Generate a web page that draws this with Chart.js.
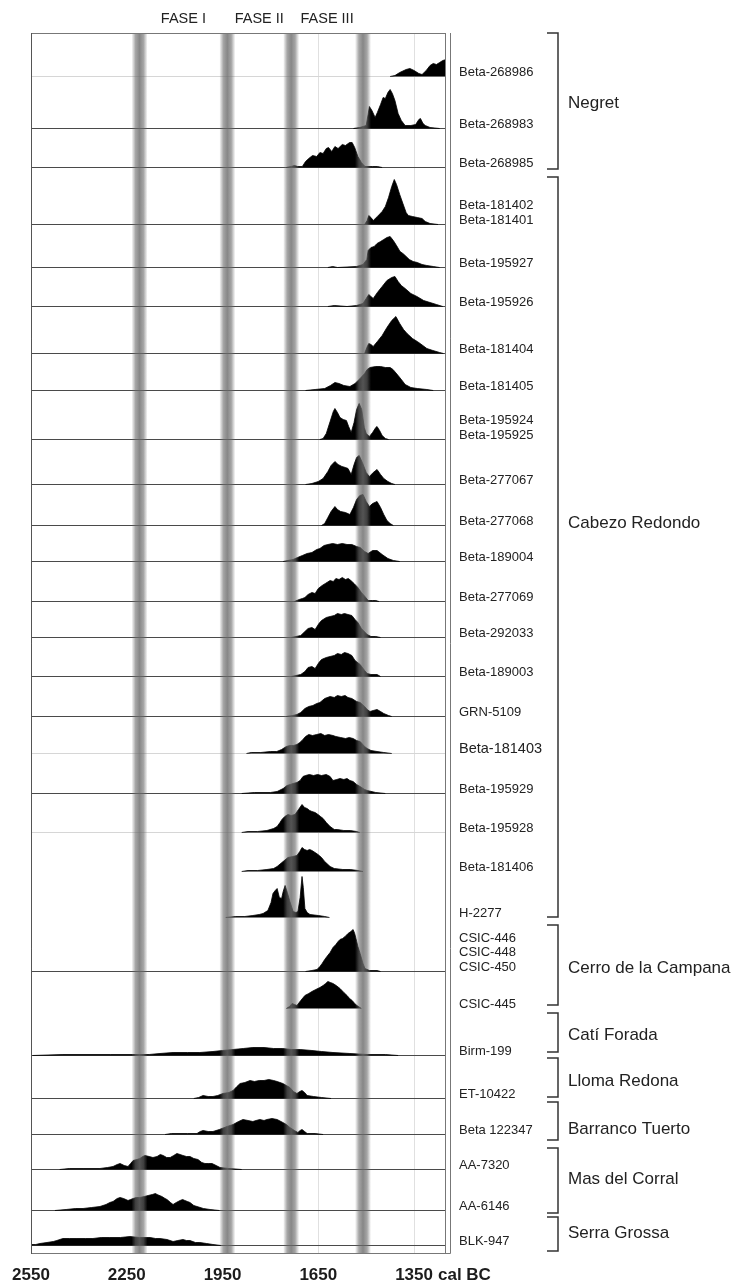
<!DOCTYPE html>
<html>
<head>
<meta charset="utf-8">
<script src="https://cdn.jsdelivr.net/npm/chart.js@4.4.1/dist/chart.umd.min.js"></script>
<style>
  html, body { margin: 0; padding: 0; background: #fff; }
  #wrap { width: 742px; height: 1284px; position: relative; }
</style>
</head>
<body>
<div id="wrap"><canvas id="myChart"></canvas></div>
<script>
// calibrated probability, [year cal BC, relative probability]
const pBeta268986 = [[1425,0],[1410,1],[1395,4],[1375,7],[1363,8],[1350,6],[1335,3],[1325,2],[1312,6],[1300,11],[1290,13],[1280,12],[1270,14],[1260,16],[1250,17]];
const pBeta268983 = [[1540,0],[1520,1],[1500,3],[1494,14],[1490,22],[1482,18],[1472,11],[1465,16],[1455,24],[1447,31],[1440,30],[1432,36],[1425,39],[1418,35],[1410,28],[1400,15],[1390,8],[1378,3],[1360,3],[1345,4],[1335,9],[1330,10],[1322,5],[1315,3],[1300,1],[1270,0]];
const pBeta268985 = [[1750,0],[1735,1],[1725,2],[1715,1],[1700,1],[1690,6],[1680,9],[1668,12],[1655,11],[1645,15],[1635,14],[1625,19],[1618,20],[1608,16],[1598,21],[1588,19],[1575,23],[1565,22],[1552,25],[1544,25],[1536,20],[1526,11],[1515,5],[1504,1],[1480,1],[1465,1],[1450,0]];
const pBeta181402 = [[1505,0],[1497,4],[1492,9],[1485,7],[1478,4],[1465,8],[1450,13],[1440,18],[1430,27],[1420,38],[1412,45],[1405,40],[1395,30],[1385,21],[1375,12],[1368,9],[1355,8],[1340,7],[1325,6],[1315,3],[1300,1],[1275,0]];
const pBeta195927 = [[1620,0],[1605,1],[1590,0],[1530,1],[1510,3],[1498,8],[1494,17],[1485,20],[1475,21],[1466,24],[1455,26],[1445,28],[1435,30],[1425,31],[1415,27],[1405,22],[1394,16],[1385,14],[1378,12],[1365,8],[1353,6],[1340,5],[1325,3],[1310,2],[1290,1],[1270,0]];
const pBeta195926 = [[1620,0],[1600,1],[1560,0],[1530,1],[1510,3],[1500,8],[1492,12],[1485,10],[1478,8],[1465,14],[1450,20],[1435,26],[1420,29],[1410,30],[1400,25],[1390,21],[1378,18],[1360,13],[1341,10],[1320,6],[1300,4],[1280,2],[1260,0]];
const pBeta181404 = [[1505,0],[1498,6],[1492,10],[1485,9],[1478,7],[1465,12],[1450,18],[1435,26],[1420,33],[1407,37],[1395,30],[1383,24],[1372,20],[1355,15],[1340,12],[1331,10],[1310,5],[1291,3],[1270,1],[1258,0]];
const pBeta181405 = [[1690,0],[1660,1],[1630,2],[1612,5],[1598,8],[1585,7],[1570,5],[1551,4],[1535,7],[1519,12],[1505,17],[1497,21],[1488,23],[1470,24],[1455,24],[1440,23],[1425,23],[1416,21],[1400,15],[1385,9],[1378,6],[1360,3],[1340,2],[1310,1],[1290,0]];
const pBeta195924 = [[1645,0],[1635,1],[1625,6],[1613,18],[1603,28],[1598,31],[1590,27],[1582,22],[1572,20],[1562,19],[1555,13],[1547,7],[1538,17],[1530,30],[1522,36],[1514,30],[1506,12],[1500,6],[1490,3],[1480,7],[1470,12],[1466,13],[1458,9],[1450,4],[1440,1],[1430,0]];
const pBeta277067 = [[1690,0],[1670,1],[1650,3],[1635,6],[1620,13],[1610,19],[1598,23],[1588,20],[1576,18],[1565,17],[1557,16],[1547,10],[1538,20],[1530,27],[1522,29],[1512,22],[1500,12],[1490,8],[1478,12],[1466,15],[1455,10],[1445,6],[1432,3],[1420,1],[1410,0]];
const pBeta277068 = [[1640,0],[1630,2],[1620,8],[1610,14],[1598,19],[1590,16],[1580,14],[1565,13],[1551,11],[1540,18],[1530,26],[1520,30],[1510,31],[1500,24],[1490,19],[1480,22],[1466,24],[1455,18],[1445,11],[1435,5],[1425,2],[1415,0]];
const pBeta189004 = [[1760,0],[1745,1],[1729,2],[1715,4],[1700,6],[1685,8],[1670,9],[1655,12],[1645,13],[1632,16],[1620,17],[1605,18],[1590,17],[1575,18],[1560,17],[1545,17],[1530,15],[1519,14],[1505,10],[1494,8],[1480,11],[1466,11],[1450,7],[1432,3],[1415,1],[1395,0]];
const pBeta277069 = [[1725,0],[1710,2],[1700,3],[1692,4],[1682,7],[1670,9],[1660,8],[1650,13],[1638,16],[1628,18],[1613,21],[1603,20],[1595,23],[1585,22],[1575,24],[1565,22],[1556,23],[1548,21],[1538,18],[1526,14],[1515,9],[1504,5],[1494,1],[1480,1],[1470,1],[1460,0]];
const pBeta292033 = [[1735,0],[1720,1],[1705,2],[1692,6],[1682,9],[1670,10],[1660,8],[1648,14],[1640,17],[1625,20],[1613,21],[1600,22],[1590,24],[1578,23],[1568,24],[1557,23],[1545,22],[1535,18],[1526,15],[1515,9],[1497,3],[1485,1],[1470,1],[1455,0]];
const pBeta189003 = [[1735,0],[1720,1],[1705,2],[1692,5],[1682,9],[1670,10],[1660,8],[1648,14],[1640,17],[1625,19],[1613,20],[1600,21],[1590,23],[1578,22],[1568,24],[1557,23],[1545,21],[1535,16],[1519,12],[1505,6],[1497,3],[1485,2],[1466,2],[1455,0]];
const pGRN5109 = [[1750,0],[1730,1],[1717,2],[1705,4],[1692,8],[1680,10],[1667,11],[1655,13],[1645,14],[1630,18],[1613,20],[1600,19],[1590,21],[1578,20],[1566,21],[1557,19],[1545,18],[1530,15],[1519,14],[1505,10],[1497,7],[1488,5],[1478,6],[1466,7],[1455,5],[1445,3],[1430,1],[1420,0]];
const pBeta181403 = [[1875,0],[1860,1],[1830,1],[1800,2],[1780,2],[1765,4],[1750,7],[1739,8],[1728,8],[1717,9],[1708,11],[1701,13],[1690,17],[1680,19],[1668,18],[1655,19],[1642,20],[1630,18],[1618,19],[1604,18],[1595,17],[1580,16],[1565,15],[1553,16],[1541,15],[1530,13],[1519,12],[1505,7],[1497,5],[1485,3],[1466,2],[1445,1],[1420,0]];
const pBeta195929 = [[1890,0],[1850,1],[1800,1],[1779,2],[1760,5],[1748,8],[1738,9],[1729,10],[1717,11],[1707,13],[1698,17],[1690,18],[1678,19],[1665,18],[1652,19],[1640,18],[1625,19],[1613,17],[1604,13],[1592,14],[1582,15],[1570,14],[1560,15],[1551,13],[1541,12],[1530,9],[1519,7],[1505,4],[1497,3],[1470,1],[1440,0]];
const pBeta195928 = [[1890,0],[1870,1],[1840,1],[1811,2],[1790,4],[1779,6],[1770,10],[1764,13],[1755,16],[1745,18],[1735,17],[1723,18],[1712,23],[1701,28],[1693,25],[1685,24],[1677,22],[1670,21],[1660,20],[1651,18],[1643,16],[1635,14],[1625,10],[1613,6],[1600,3],[1591,3],[1570,2],[1550,2],[1530,1],[1520,0]];
const pBeta181406 = [[1890,0],[1870,1],[1840,1],[1811,2],[1790,3],[1779,5],[1764,9],[1745,14],[1730,15],[1717,16],[1708,20],[1701,24],[1693,22],[1685,21],[1677,22],[1670,21],[1660,19],[1651,17],[1640,14],[1630,10],[1613,5],[1600,3],[1573,2],[1550,2],[1526,1],[1510,0]];
const pH2277 = [[1940,0],[1910,1],[1880,1],[1855,2],[1835,3],[1823,4],[1808,7],[1798,15],[1792,24],[1785,27],[1779,29],[1772,20],[1765,19],[1760,26],[1754,32],[1747,25],[1739,16],[1729,6],[1720,5],[1714,6],[1707,20],[1701,41],[1697,30],[1692,9],[1685,5],[1676,3],[1650,2],[1630,1],[1615,0]];
const pCSIC446 = [[1690,0],[1670,1],[1654,2],[1645,5],[1638,8],[1630,12],[1623,15],[1613,19],[1604,24],[1595,27],[1588,30],[1582,32],[1574,33],[1566,35],[1557,38],[1548,40],[1541,42],[1536,38],[1532,33],[1526,25],[1519,18],[1510,8],[1504,3],[1490,1],[1466,1],[1455,0]];
const pCSIC445 = [[1750,0],[1740,2],[1732,5],[1725,4],[1717,3],[1705,8],[1692,13],[1680,15],[1670,17],[1658,19],[1645,21],[1635,23],[1627,25],[1620,27],[1612,26],[1604,25],[1594,23],[1582,20],[1570,16],[1560,13],[1552,10],[1544,8],[1536,5],[1529,3],[1515,0]];
const pBirm199 = [[2545,0],[2450,1],[2300,1],[2231,1],[2180,1],[2146,2],[2105,3],[2060,3],[2021,3],[1980,4],[1950,5],[1917,6],[1885,7],[1855,8],[1820,8],[1790,7],[1761,7],[1735,6],[1707,6],[1670,5],[1640,4],[1604,3],[1551,2],[1497,1],[1440,1],[1400,0]];
const pET10422 = [[2040,0],[2025,1],[2011,3],[1995,2],[1980,2],[1965,3],[1949,5],[1930,6],[1917,8],[1905,12],[1895,15],[1880,16],[1864,18],[1850,17],[1835,18],[1820,18],[1805,19],[1790,18],[1779,17],[1761,15],[1750,13],[1739,11],[1728,7],[1717,5],[1708,7],[1701,8],[1693,6],[1685,3],[1665,2],[1640,1],[1610,0]];
const pBeta122347 = [[2130,0],[2110,1],[2060,1],[2030,1],[2020,3],[2011,4],[1995,3],[1980,3],[1960,5],[1936,8],[1917,10],[1900,13],[1886,15],[1870,14],[1855,13],[1845,14],[1833,15],[1820,14],[1811,15],[1795,16],[1779,15],[1761,12],[1750,10],[1739,7],[1725,4],[1714,2],[1707,4],[1701,5],[1693,3],[1685,1],[1660,1],[1635,0]];
const pAA7320 = [[2460,0],[2430,1],[2387,1],[2334,1],[2310,2],[2293,3],[2280,5],[2271,6],[2258,4],[2246,3],[2238,6],[2230,9],[2218,10],[2209,11],[2200,13],[2193,14],[2180,13],[2168,12],[2155,13],[2145,15],[2136,14],[2125,12],[2114,12],[2103,14],[2093,16],[2083,15],[2074,14],[2063,13],[2052,13],[2040,11],[2027,10],[2015,7],[2005,6],[1995,6],[1983,6],[1970,4],[1958,2],[1930,1],[1890,0]];
const pAA6146 = [[2475,0],[2440,1],[2410,2],[2387,2],[2360,3],[2334,4],[2315,6],[2303,8],[2293,9],[2280,12],[2271,13],[2260,12],[2246,10],[2238,11],[2230,12],[2220,13],[2209,13],[2195,14],[2183,15],[2170,16],[2160,17],[2155,16],[2140,14],[2130,12],[2124,11],[2113,8],[2105,6],[2095,8],[2083,10],[2075,11],[2068,10],[2060,9],[2052,8],[2040,5],[2030,4],[2010,2],[1989,1],[1960,0]];
const pBLK947 = [[2550,1],[2535,1],[2522,2],[2500,3],[2480,4],[2469,5],[2450,7],[2430,7],[2406,7],[2380,7],[2356,7],[2330,8],[2303,8],[2270,8],[2240,9],[2210,8],[2177,8],[2160,7],[2146,7],[2124,6],[2105,4],[2090,5],[2074,6],[2063,5],[2052,5],[2035,3],[2021,3],[2000,2],[1980,1],[1955,0]];

// one entry per row, top to bottom
const sampleLabels = [
  ['Beta-268986'], ['Beta-268983'], ['Beta-268985'],
  ['Beta-181402', 'Beta-181401'], ['Beta-195927'], ['Beta-195926'], ['Beta-181404'], ['Beta-181405'],
  ['Beta-195924', 'Beta-195925'], ['Beta-277067'], ['Beta-277068'], ['Beta-189004'], ['Beta-277069'],
  ['Beta-292033'], ['Beta-189003'], ['GRN-5109'], ['Beta-181403'], ['Beta-195929'], ['Beta-195928'],
  ['Beta-181406'], ['H-2277'],
  ['CSIC-446', 'CSIC-448', 'CSIC-450'], ['CSIC-445'],
  ['Birm-199'], ['ET-10422'], ['Beta 122347'], ['AA-7320'], ['AA-6146'], ['BLK-947']
];
const sampleProbs = [
  pBeta268986, pBeta268983, pBeta268985,
  pBeta181402, pBeta195927, pBeta195926, pBeta181404, pBeta181405,
  pBeta195924, pBeta277067, pBeta277068, pBeta189004, pBeta277069,
  pBeta292033, pBeta189003, pGRN5109, pBeta181403, pBeta195929, pBeta195928,
  pBeta181406, pH2277,
  pCSIC446, pCSIC445,
  pBirm199, pET10422, pBeta122347, pAA7320, pAA6146, pBLK947
];

const sites = ['Negret', 'Cabezo Redondo', 'Cerro de la Campana', 'Catí Forada', 'Lloma Redona', 'Barranco Tuerto', 'Mas del Corral', 'Serra Grossa'];
const xTicks = [2550, 2250, 1950, 1650, 1350];
const phases = ['FASE I', 'FASE II', 'FASE III'];
const phaseBounds = [2210, 1935, 1735, 1510];

// layout of the panel (pixels)
const PLOT_TOP = 33, PLOT_BOTTOM = 1253;
const rowBaseY = [76.5, 128.5, 167.5, 224.5, 267.5, 306.5, 353.5, 390.5, 439.5, 484.5, 525.5, 561.5, 601.5, 637.5,
  676.5, 716.5, 753.5, 793.5, 832.5, 871.5, 917.5, 971.5, 1008.5, 1055.5, 1098.5, 1134.5, 1169.5, 1210.5, 1245.5];
const rowLine = ['faint', 'full', 'full', 'full', 'full', 'full', 'full', 'full', 'full', 'full', 'full', 'full', 'full', 'full',
  'full', 'full', 'faint', 'full', 'faint', 'none', 'none', 'full', 'none', 'full', 'full', 'full', 'full', 'full', 'full'];
const bracketSpans = [[33, 169], [177, 917], [925, 1005], [1013, 1052], [1058, 1097], [1102, 1140], [1148, 1213], [1217, 1251]];
const siteLabelY = [103, 523, 968, 1035, 1081, 1129, 1179, 1233];

const FONT = '"Liberation Sans", Arial, Helvetica, sans-serif';
Chart.defaults.font.family = FONT;

const datasets = [];
sampleProbs.forEach((prob, i) => {
  const base = rowBaseY[i] - PLOT_TOP;
  if (rowLine[i] !== 'none') {
    datasets.push({
      data: [{ x: 2550, y: base }, { x: 1250, y: base }],
      borderColor: rowLine[i] === 'full' ? '#4a4a4a' : '#d6d6d6',
      borderWidth: 1, pointRadius: 0, fill: false, order: 2
    });
  }
  datasets.push({
    data: prob.map(([yr, p]) => ({ x: yr, y: base - p })),
    borderColor: '#000', borderWidth: 0.8, backgroundColor: '#000',
    fill: { value: base }, pointRadius: 0, tension: 0, order: 1
  });
});

// sample names sit on the right axis, just above each baseline
const tickVals = [], tickNames = [];
sampleLabels.forEach((names, i) => {
  names.forEach((n, j) => {
    tickVals.push(rowBaseY[i] - PLOT_TOP - 4.5 - (names.length - 1 - j) * 14.5);
    tickNames.push(n);
  });
});

const phaseBands = {
  id: 'phaseBands',
  afterDatasetsDraw(chart) {
    const { ctx, chartArea: a, scales: { x } } = chart;
    ctx.save();
    phaseBounds.forEach(yr => {
      const px = x.getPixelForValue(yr);
      const g = ctx.createLinearGradient(px - 8, 0, px + 8, 0);
      g.addColorStop(0, 'rgba(105,105,105,0)');
      g.addColorStop(0.25, 'rgba(105,105,105,0.6)');
      g.addColorStop(0.5, 'rgba(105,105,105,0.8)');
      g.addColorStop(0.75, 'rgba(105,105,105,0.6)');
      g.addColorStop(1, 'rgba(105,105,105,0)');
      ctx.fillStyle = g;
      ctx.fillRect(px - 8, a.top, 16, a.bottom - a.top);
    });
    ctx.restore();
  }
};

const frameAndText = {
  id: 'frameAndText',
  afterDraw(chart) {
    const { ctx, chartArea: a, scales: { x } } = chart;
    ctx.save();
    // plot frame
    ctx.strokeStyle = '#777';
    ctx.lineWidth = 1;
    ctx.strokeRect(a.left + 0.5, a.top + 0.5, a.right - a.left - 1, a.bottom - a.top);
    ctx.beginPath();
    ctx.moveTo(a.right + 4.5, a.top);
    ctx.lineTo(a.right + 4.5, a.bottom + 0.5);
    ctx.lineTo(a.right, a.bottom + 0.5);
    ctx.stroke();
    ctx.strokeStyle = '#555';
    ctx.beginPath();
    ctx.moveTo(a.left + 0.5, a.top);
    ctx.lineTo(a.left + 0.5, a.bottom + 1);
    ctx.stroke();

    // phase titles between the bands
    ctx.fillStyle = '#222';
    ctx.font = '14.5px ' + FONT;
    ctx.textAlign = 'center';
    ctx.textBaseline = 'middle';
    phases.forEach((p, k) => {
      const cx = (x.getPixelForValue(phaseBounds[k]) + x.getPixelForValue(phaseBounds[k + 1])) / 2;
      ctx.fillText(p, cx, 19);
    });

    // unit after the last tick
    ctx.font = 'bold 17px ' + FONT;
    ctx.fillStyle = '#1c1c1c';
    ctx.textAlign = 'left';
    const w = ctx.measureText('1350').width;
    ctx.fillText('cal BC', x.getPixelForValue(1350) + w / 2 + 5, 1275);

    // site brackets
    ctx.strokeStyle = '#333';
    ctx.lineWidth = 1.5;
    bracketSpans.forEach(([t, b]) => {
      ctx.beginPath();
      ctx.moveTo(547, t);
      ctx.lineTo(558, t);
      ctx.lineTo(558, b);
      ctx.lineTo(547, b);
      ctx.stroke();
    });
    ctx.fillStyle = '#222';
    ctx.font = '17px ' + FONT;
    sites.forEach((s, i) => ctx.fillText(s, 568, siteLabelY[i]));
    ctx.restore();
  }
};

new Chart(document.getElementById('myChart'), {
  type: 'line',
  data: { datasets },
  options: {
    responsive: true,
    maintainAspectRatio: false,
    animation: false,
    devicePixelRatio: 1,
    events: [],
    layout: { padding: { left: 31, top: PLOT_TOP, right: 0, bottom: 0 } },
    plugins: { legend: { display: false }, tooltip: { enabled: false } },
    scales: {
      x: {
        type: 'linear', min: 1250, max: 2550, reverse: true,
        afterBuildTicks: s => { s.ticks = xTicks.map(v => ({ value: v })); },
        afterFit: s => { s.height = 1284 - PLOT_BOTTOM; },
        border: { display: false },
        grid: {
          drawTicks: false,
          color: c => (c.tick && (c.tick.value === 1650 || c.tick.value === 1350)) ? '#e0e0e0' : 'rgba(0,0,0,0)'
        },
        ticks: {
          autoSkip: false, maxRotation: 0, padding: 12, color: '#1c1c1c',
          font: { size: 17, weight: 'bold' },
          callback: v => String(v)
        }
      },
      y: {
        type: 'linear', position: 'right', min: 0, max: PLOT_BOTTOM - PLOT_TOP, reverse: true,
        afterBuildTicks: s => { s.ticks = tickVals.map(v => ({ value: v })); },
        afterFit: s => { s.width = 742 - 446; },
        border: { display: false },
        grid: { display: false, drawTicks: false },
        ticks: {
          autoSkip: false, padding: 13, color: '#222',
          font: c => ({ size: tickNames[c.index] === 'Beta-181403' ? 14.5 : 13 }),
          callback: (v, i) => tickNames[i]
        }
      }
    }
  },
  plugins: [phaseBands, frameAndText]
});
</script>
</body>
</html>
